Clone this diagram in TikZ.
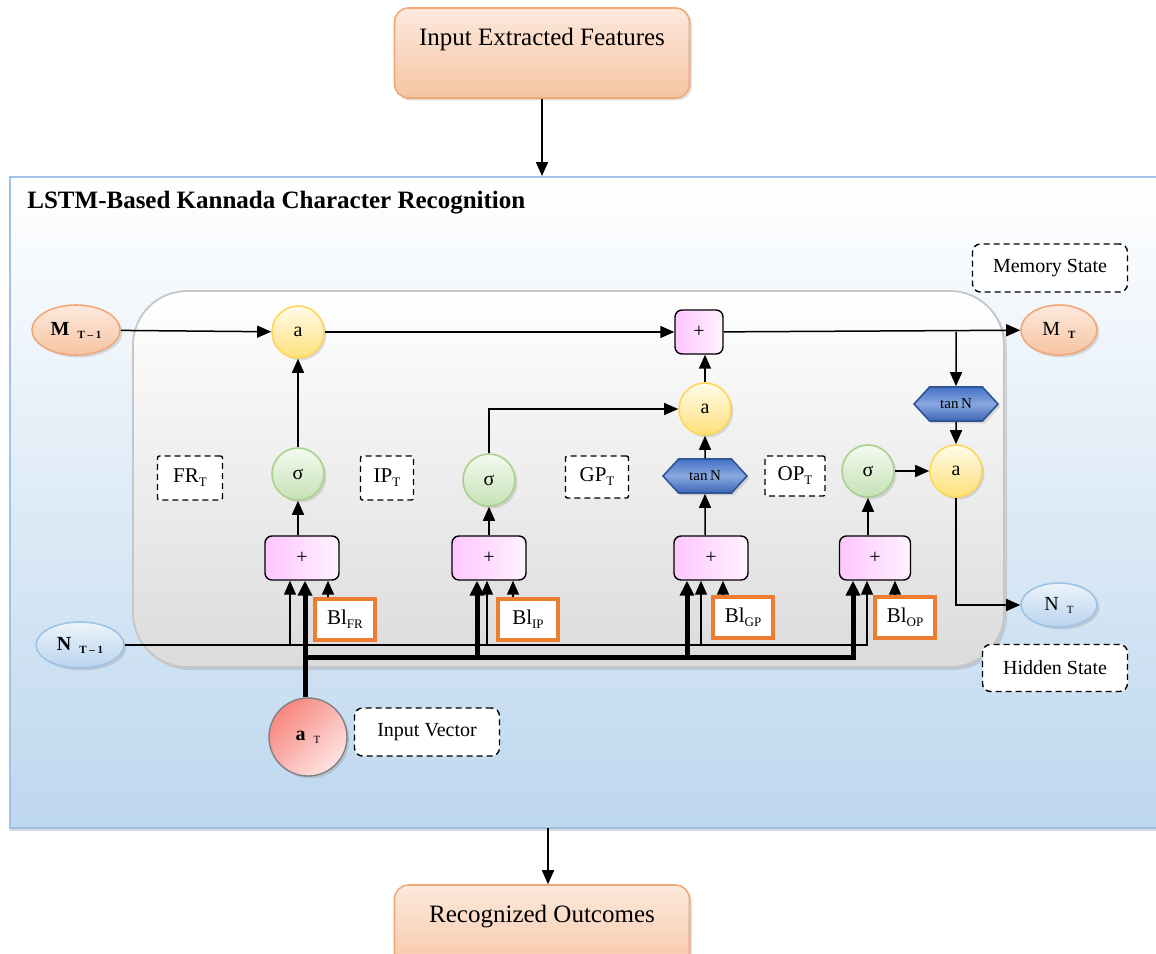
\documentclass[tikz,border=0pt]{standalone}
\usepackage{fontspec}
\setmainfont{Liberation Serif}
\usetikzlibrary{shapes.geometric,shapes.symbols,shadows,arrows.meta,calc}
\definecolor{orTop}{RGB}{253,233,221}
\definecolor{orBot}{RGB}{246,196,163}
\definecolor{orBorder}{RGB}{240,168,120}
\definecolor{yTop}{RGB}{255,251,234}
\definecolor{yBot}{RGB}{255,224,122}
\definecolor{yBorder}{RGB}{255,215,87}
\definecolor{gTop}{RGB}{243,250,239}
\definecolor{gBot}{RGB}{198,226,182}
\definecolor{gBorder}{RGB}{169,209,142}
\definecolor{pkL}{RGB}{255,198,255}
\definecolor{pkR}{RGB}{255,242,255}
\definecolor{hexTop}{RGB}{68,114,196}
\definecolor{hexMid}{RGB}{138,168,224}
\definecolor{hexBot}{RGB}{60,102,180}
\definecolor{hexBorder}{RGB}{47,85,151}
\definecolor{nTop}{RGB}{236,244,251}
\definecolor{nBot}{RGB}{185,212,238}
\definecolor{nBorder}{RGB}{157,195,230}
\definecolor{frBorder}{RGB}{157,195,230}
\definecolor{frBot}{RGB}{189,215,238}
\definecolor{blOr}{RGB}{237,125,49}
\definecolor{rTop}{RGB}{253,228,226}
\definecolor{rBot}{RGB}{247,135,127}
\newcommand{\lsub}[2]{#1\hspace{4pt}\raisebox{-1.5pt}{\fontsize{5.5}{6}\selectfont #2}}
\newcommand{\gsub}[2]{#1\raisebox{-2pt}{\fontsize{6.5}{7}\selectfont #2}}
\begin{document}
\begin{tikzpicture}[x=0.5pt,y=-0.5pt,
  shad/.style={drop shadow={shadow xshift=1.2pt,shadow yshift=-1.2pt,opacity=0.25}},
  obox/.style={draw=orBorder,line width=0.8pt,rounded corners=7pt,top color=orTop,bottom color=orBot,shad,
    minimum width=147.5pt,minimum height=45pt,font=\fontsize{12.5}{14}\selectfont,text depth=16.5pt},
  framebox/.style={draw=frBorder,line width=1pt,top color=white,bottom color=frBot,
    drop shadow={shadow xshift=0pt,shadow yshift=-1.5pt,opacity=0.3}},
  cellbox/.style={draw=gray!45,line width=0.9pt,rounded corners=27pt,top color=white,bottom color=gray!28,
    drop shadow={shadow xshift=1.5pt,shadow yshift=-1.5pt,opacity=0.25}},
  circ/.style={circle,minimum size=26pt,inner sep=0pt,line width=0.8pt,shad,font=\fontsize{10}{12}\selectfont},
  ycirc/.style={circ,draw=yBorder,top color=yTop,bottom color=yBot},
  gcirc/.style={circ,draw=gBorder,top color=gTop,bottom color=gBot},
  hexa/.style={signal,signal to=east and west,signal pointer angle=95,draw=hexBorder,line width=0.8pt,
    top color=hexTop,bottom color=hexBot,middle color=hexMid,minimum width=42pt,minimum height=17pt,
    inner sep=1pt,shad,font=\fontsize{7.5}{8}\selectfont},
  sumbox/.style={draw=black,line width=0.7pt,rounded corners=3.5pt,left color=pkL,right color=pkR,
    minimum width=37pt,minimum height=22pt,font=\fontsize{10}{12}\selectfont},
  blbox/.style={draw=blOr,line width=2pt,fill=white,minimum width=30pt,minimum height=20.5pt,
    font=\fontsize{10.5}{12}\selectfont},
  dbox/.style={draw=black,dash pattern=on 3pt off 2pt,line width=0.7pt,fill=white,rounded corners=1pt,
    font=\fontsize{10.5}{12}\selectfont},
  dboxr/.style={dbox,rounded corners=4pt,font=\fontsize{10}{12}\selectfont},
  orell/.style={ellipse,draw=orBorder,line width=0.8pt,top color=orTop,bottom color=orBot,shad,
    minimum width=44pt,minimum height=25pt,inner sep=0pt,font=\fontsize{10}{11}\selectfont},
  nell/.style={ellipse,draw=nBorder,line width=0.8pt,top color=nTop,bottom color=nBot,shad,
    minimum width=44pt,minimum height=23pt,inner sep=0pt,font=\fontsize{10}{11}\selectfont},
  conn/.style={line width=0.75pt,-{Triangle[length=7pt,width=6pt]}},
  nline/.style={line width=0.6pt,-{Triangle[length=7pt,width=6pt]}},
  thkarr/.style={line width=2.5pt,-{Triangle[length=7.5pt,width=7pt]}}
]
\useasboundingbox (0,0) rectangle (1156,953);
% main frame
\node[framebox,minimum width=580pt,minimum height=325.5pt,inner sep=0pt] (frame) at (590,502.5) {};
% top and bottom boxes
\node[obox] (inp) at (542,53) {Input Extracted Features};
\node[obox] (out) at (542,930) {Recognized Outcomes};
% title
\node[anchor=west,inner sep=0pt,font=\bfseries\fontsize{12.5}{14}\selectfont] (title) at (27,203) {LSTM-Based Kannada Character Recognition};
% cell
\node[cellbox,minimum width=435.5pt,minimum height=188pt,inner sep=0pt] (cell) at (568.5,479) {};
% state ellipses
\node[orell] (Mprev) at (76,330) {\lsub{\textbf{M}}{\textbf{T – 1}}};
\node[orell,minimum width=38pt] (MT) at (1059,330) {\lsub{M}{\textbf{T}}};
\node[nell] (Nprev) at (80,645) {\lsub{\textbf{N}}{\textbf{T – 1}}};
\node[nell,minimum width=38pt,minimum height=22pt] (NT) at (1059,605) {\lsub{N}{T}};
% top row
\node[ycirc] (a1) at (298,332) {a};
\node[sumbox,minimum width=24pt] (plusTop) at (699,332) {+};
\node[ycirc] (a2) at (705,409) {a};
\node[hexa] (tanh1) at (705,476) {tan\,N};
\node[hexa] (tanh2) at (956,404) {tan\,N};
\node[ycirc] (a4) at (956,471) {a};
% sigma gates
\node[gcirc] (s1) at (298,474) {σ};
\node[gcirc] (s2) at (489,480) {σ};
\node[gcirc] (s3) at (868,471) {σ};
% gate labels
\node[dbox,minimum width=32.5pt,minimum height=22pt] (FRT) at (190,478) {\gsub{FR}{T}};
\node[dbox,minimum width=26.5pt,minimum height=22pt] (IPT) at (387,478) {\gsub{IP}{T}};
\node[dbox,minimum width=31.5pt,minimum height=21pt] (GPT) at (597,477) {\gsub{GP}{T}};
\node[dbox,minimum width=30pt,minimum height=20pt] (OPT) at (795,476) {\gsub{OP}{T}};
\node[dboxr,minimum width=77.5pt,minimum height=24pt] (mem) at (1050,268) {Memory State};
\node[dboxr,minimum width=72.5pt,minimum height=23.5pt] (hid) at (1055,668) {Hidden State};
\node[dboxr,minimum width=72.5pt,minimum height=24pt] (ivec) at (427,732) {Input Vector};
% sum boxes
\node[sumbox] (sFR) at (302,558) {+};
\node[sumbox] (sIP) at (489,558) {+};
\node[sumbox] (sGP) at (711,558) {+};
\node[sumbox,minimum width=35.5pt] (sOP) at (875,558) {+};
% bias boxes
\node[blbox] (bFR) at (345,619) {\gsub{Bl}{FR}};
\node[blbox] (bIP) at (528,619) {\gsub{Bl}{IP}};
\node[blbox] (bGP) at (743,617) {\gsub{Bl}{GP}};
\node[blbox] (bOP) at (905,617) {\gsub{Bl}{OP}};
% input vector circle
\begin{scope}
\clip (0,0) rectangle (1156,777);
\node[circle,minimum size=39pt,inner sep=0pt,draw=gray,line width=0.7pt,left color=rBot,right color=rTop,shading angle=45,shad,
  font=\fontsize{10}{11}\selectfont] (aT) at (308,737) {\lsub{\textbf{a}}{T}};
\end{scope}
% outer arrows
\draw[conn] (inp) -- (inp.south |- frame.north);
\coordinate (fb) at (548,828);
\draw[conn] (fb) -- (fb |- out.north);
% memory line
\draw[conn] (Mprev) -- (a1);
\draw[conn] (a1) -- (plusTop);
\draw[conn] (plusTop) -- (MT);
\coordinate (br) at (956,332);
\draw[conn] (br) -- (tanh2);
\draw[conn] (tanh2) -- (a4);
\draw[conn] (a4) |- (NT);
\draw[conn] (s3) -- (a4);
\draw[conn] (s2) |- (a2);
\draw[conn] (tanh1) -- (a2);
\draw[conn] (a2) -- (a2 |- plusTop.south);
\draw[conn] (s1) -- (a1);
% sums to activations
\draw[conn] (sFR.north -| s1) -- (s1);
\draw[conn] (sIP.north -| s2) -- (s2);
\draw[conn] (sGP.north -| tanh1) -- (tanh1);
\draw[conn] (sOP.north -| s3) -- (s3);
% bias arrows
\draw[conn] (bFR.north -| 328,0) -- (sFR.south -| 328,0);
\draw[conn] (bIP.north -| 513,0) -- (sIP.south -| 513,0);
\draw[conn] (bGP.north -| 723,0) -- (sGP.south -| 723,0);
\draw[conn] (bOP.north -| 895,0) -- (sOP.south -| 895,0);
% hidden-state thin line
\coordinate (tFR) at (290,645);
\coordinate (tIP) at (487,645);
\coordinate (tGP) at (701,645);
\coordinate (tOP) at (867,645);
\draw[nline] (Nprev) -| (tOP |- sOP.south);
\draw[nline] (tFR) -- (tFR |- sFR.south);
\draw[nline] (tIP) -- (tIP |- sIP.south);
\draw[nline] (tGP) -- (tGP |- sGP.south);
% input thick lines
\coordinate (kFR) at (305,657);
\coordinate (kIP) at (477,657);
\coordinate (kGP) at (687,657);
\coordinate (kOP) at (853,657);
\draw[thkarr] (aT.north -| kFR) -- (kFR |- sFR.south);
\draw[thkarr] (kFR) -| (kOP |- sOP.south);
\draw[thkarr] (kIP) -- (kIP |- sIP.south);
\draw[thkarr] (kGP) -- (kGP |- sGP.south);
\end{tikzpicture}
\end{document}
